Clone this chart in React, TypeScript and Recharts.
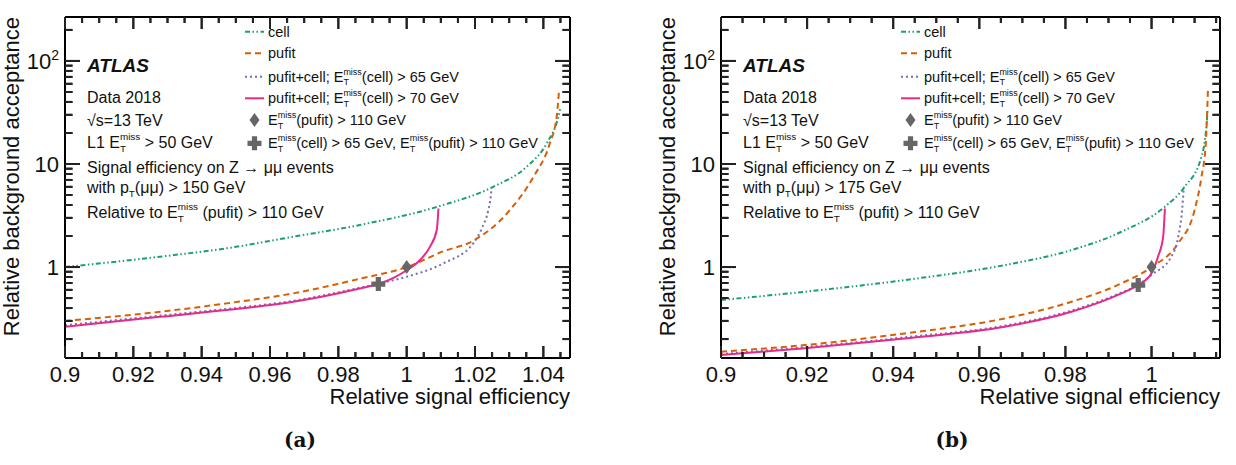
import React from "react";
import { ComposedChart, Line, XAxis, YAxis } from "recharts";

/* eslint-disable @typescript-eslint/no-explicit-any */

const FONT = '"Liberation Sans", Arial, Helvetica, sans-serif';
const INK = "#111111";
const CELL = "#1b9e77";
const PUFIT = "#d95f02";
const PC65 = "#7570b3";
const PC70 = "#e7298a";
const MARK = "#666666";
const H = 465;
const PLOT_TOP = 17;
const PLOT_BOTTOM = 358;

// ---- panel (a): pT(mumu) > 150 GeV ----
const cellA = [[0.9, 1.0], [0.9278, 1.26], [0.9473, 1.52], [0.9668, 1.97], [0.9863, 2.56], [1.0097, 3.91], [1.0253, 6.0], [1.0351, 9.4], [1.041, 15.9], [1.0444, 28.8], [1.0449, 34]];
const pufitA = [[0.9, 0.3], [0.9278, 0.368], [0.9473, 0.444], [0.9668, 0.555], [0.9863, 0.77], [1.0, 1.0], [1.0107, 1.42], [1.0195, 1.8], [1.0302, 3.57], [1.0371, 7.5], [1.0419, 15.9], [1.0439, 28.8], [1.0446, 52]];
const pc65A = [[0.9, 0.273], [0.9278, 0.338], [0.9473, 0.392], [0.9668, 0.47], [0.9863, 0.63], [0.9917, 0.69], [1.0, 0.805], [1.0107, 1.085], [1.0195, 1.7], [1.0222, 2.46], [1.0239, 3.57], [1.0246, 4.82], [1.0249, 6.0]];
const pc70A = [[0.9, 0.264], [0.9278, 0.329], [0.9473, 0.382], [0.9668, 0.46], [0.9863, 0.62], [0.9917, 0.684], [0.996, 0.78], [1.0, 0.93], [1.0039, 1.17], [1.0068, 1.57], [1.0088, 2.29], [1.0093, 3.7]];
const diamondA = [{ x: 1.0, y: 1.0 }];
const crossA = [{ x: 0.9917, y: 0.684 }];

// ---- panel (b): pT(mumu) > 175 GeV ----
const cellB = [[0.9, 0.478], [0.9195, 0.576], [0.9427, 0.748], [0.9659, 1.045], [0.9814, 1.46], [0.993, 2.2], [1.0031, 3.85], [1.0077, 6.0], [1.0116, 11.8], [1.0128, 24.8], [1.013, 33]];
const pufitB = [[0.9, 0.151], [0.9195, 0.175], [0.9427, 0.227], [0.9659, 0.317], [0.9814, 0.46], [0.993, 0.694], [1.0, 1.0], [1.0062, 1.7], [1.01, 3.57], [1.0116, 7.5], [1.0126, 15.9], [1.0131, 52]];
const pc65B = [[0.9, 0.143], [0.9195, 0.167], [0.9427, 0.208], [0.9659, 0.27], [0.9814, 0.378], [0.993, 0.565], [0.9969, 0.669], [1.0, 0.84], [1.0046, 1.26], [1.0062, 1.97], [1.0071, 3.57], [1.0075, 6.0]];
const pc70B = [[0.9, 0.14], [0.9195, 0.163], [0.9427, 0.203], [0.9659, 0.263], [0.9814, 0.368], [0.993, 0.555], [0.9969, 0.669], [1.0, 0.87], [1.0015, 1.26], [1.0027, 1.97], [1.0031, 3.7]];
const diamondB = [{ x: 1.0, y: 1.0 }];
const crossB = [{ x: 0.9969, y: 0.669 }];

// ---- axes ----
const X_MAJOR_A = [0.9, 0.92, 0.94, 0.96, 0.98, 1, 1.02, 1.04];
const X_MAJOR_B = [0.9, 0.92, 0.94, 0.96, 0.98, 1];
const Y_MAJOR = [1, 10, 100];
const Y_TICKS = [0.2, 0.3, 0.4, 0.5, 0.6, 0.7, 0.8, 0.9, 1, 2, 3, 4, 5, 6, 7, 8, 9, 10, 20, 30, 40, 50, 60, 70, 80, 90, 100, 200];
const Y_DOMAIN = [0.131, 267];

const pts = (a: number[][]) => a.map(([x, y]) => ({ x, y }));

const minorGrid = (lo: number, hi: number, step: number) => {
  const out: number[] = [];
  for (let i = 0; lo + i * step <= hi + 1e-9; i++) out.push(Math.round((lo + i * step) * 1000) / 1000);
  return out;
};

const isMajor = (v: number, major: number[]) => major.some((m) => Math.abs(m - v) < 1e-9);
const fmtX = (v: number) => String(Math.round(v * 100) / 100);

const TICK_W = 2;
const TICK_INK = "#222222";

const bottomTick = (major: number[]) => (p: any) => {
  const v = p.payload.value;
  const M = isMajor(v, major);
  return (
    <g>
      <line x1={p.x} x2={p.x} y1={p.y} y2={p.y - (M ? 12 : 6)} stroke={TICK_INK} strokeWidth={TICK_W} />
      {M && (
        <text x={p.x} y={p.y + 24} textAnchor="middle" fontSize={22} fontFamily={FONT} fill={INK}>
          {fmtX(v)}
        </text>
      )}
    </g>
  );
};

const topTick = (major: number[]) => (p: any) => {
  const M = isMajor(p.payload.value, major);
  return <line x1={p.x} x2={p.x} y1={p.y} y2={p.y + (M ? 12 : 6)} stroke={TICK_INK} strokeWidth={TICK_W} />;
};

const leftTick = (p: any) => {
  const v = p.payload.value;
  const M = isMajor(v, Y_MAJOR);
  return (
    <g>
      <line x1={p.x} x2={p.x + (M ? 15 : 7.5)} y1={p.y} y2={p.y} stroke={TICK_INK} strokeWidth={TICK_W} />
      {M && (
        <text x={p.x - 6} y={p.y + 8} textAnchor="end" fontSize={22} fontFamily={FONT} fill={INK}>
          {v === 100 ? (
            <>
              10<tspan fontSize={14} dy={-9}>2</tspan>
            </>
          ) : (
            String(v)
          )}
        </text>
      )}
    </g>
  );
};

const rightTick = (p: any) => {
  const M = isMajor(p.payload.value, Y_MAJOR);
  return <line x1={p.x} x2={p.x - (M ? 15 : 7.5)} y1={p.y} y2={p.y} stroke={TICK_INK} strokeWidth={TICK_W} />;
};

const diamondPath = (cx: number, cy: number) => `M${cx},${cy - 7} L${cx + 5},${cy} L${cx},${cy + 7} L${cx - 5},${cy} Z`;
const crossPath = (cx: number, cy: number) => {
  const a = 7;
  const t = 2.6;
  return `M${cx - t},${cy - a} H${cx + t} V${cy - t} H${cx + a} V${cy + t} H${cx + t} V${cy + a} H${cx - t} V${cy + t} H${cx - a} V${cy - t} H${cx - t} Z`;
};
const DiamondDot = (p: any) => <path key={`d${p.index}`} d={diamondPath(p.cx, p.cy)} fill={MARK} />;
const CrossDot = (p: any) => <path key={`c${p.index}`} d={crossPath(p.cx, p.cy)} fill={MARK} />;

// E_T^miss as stacked sub/superscript, followed by the rest of the text on the baseline
const emiss = (fs: number, k: string, rest: string) => {
  const s = fs * 0.62;
  return [
    <tspan key={k + "e"}>E</tspan>,
    <tspan key={k + "t"} fontSize={s} dy={fs * 0.25}>T</tspan>,
    <tspan key={k + "m"} fontSize={s} dx={-0.611 * s} dy={-fs * 0.72}>miss</tspan>,
    <tspan key={k + "r"} dy={fs * 0.47}>{rest}</tspan>,
  ];
};

const CUTS_A = "150";
const CUTS_B = "175";

const LEGEND = [
  { kind: "line", color: CELL, dash: "5 2.5 1.5 2.5 1.5 2.5", label: "cell" },
  { kind: "line", color: PUFIT, dash: "6 4", label: "pufit" },
  { kind: "line", color: PC65, dash: "2 3", label: "pc65" },
  { kind: "line", color: PC70, dash: "", label: "pc70" },
  { kind: "diamond", color: MARK, dash: "", label: "ref" },
  { kind: "cross", color: MARK, dash: "", label: "combo" },
];
const LEGEND_Y = [36.7, 58.3, 81.7, 103.3, 125, 148.3];

const legendText = (label: string, fs: number) => {
  switch (label) {
    case "pc65":
      return <>{"pufit+cell; "}{emiss(fs, "a", "(cell) > 65 GeV")}</>;
    case "pc70":
      return <>{"pufit+cell; "}{emiss(fs, "b", "(cell) > 70 GeV")}</>;
    case "ref":
      return <>{emiss(fs, "c", "(pufit) > 110 GeV")}</>;
    case "combo":
      return <>{emiss(fs, "d", "(cell) > 65 GeV, ")}{emiss(fs, "e", "(pufit) > 110 GeV")}</>;
    default:
      return label;
  }
};

interface PanelProps {
  left: number;
  width: number;
  plotL: number;
  plotR: number;
  xMax: number;
  xMajor: number[];
  cell: number[][];
  pufit: number[][];
  pc65: number[][];
  pc70: number[][];
  diamond: { x: number; y: number }[];
  cross: { x: number; y: number }[];
  ptCut: string;
  tag: string;
  tagX: number;
}

function Panel(props: PanelProps) {
  const { left, width, plotL, plotR, xMax, xMajor, ptCut, tag, tagX } = props;
  const xTicks = minorGrid(0.9, xMax, 0.005);
  const margin = { top: 16, bottom: 77, left: plotL - 40, right: width - plotR - 1 };
  const axisLine = { stroke: "#000", strokeWidth: 2 };
  const tx = plotL + 22;
  const lx = plotL + 180;
  const fs = 16;
  const lfs = 14.5;

  // frame tick marks on all four sides, same linear / log mapping as the chart axes
  const xPix = (v: number) => plotL + ((v - 0.9) / (xMax - 0.9)) * (plotR - plotL);
  const lo = Math.log10(Y_DOMAIN[0]);
  const hi = Math.log10(Y_DOMAIN[1]);
  const yPix = (v: number) => PLOT_TOP + ((hi - Math.log10(v)) / (hi - lo)) * (PLOT_BOTTOM - PLOT_TOP);

  return (
    <div style={{ position: "absolute", left, top: 0, width, height: H }}>
      <svg width={width} height={H} style={{ position: "absolute", left: 0, top: 0 }} fontFamily={FONT} fill={INK}>
        <text transform={`translate(${plotL - 46},17) rotate(-90)`} textAnchor="end" fontSize={22}>
          Relative background acceptance
        </text>
        <text x={plotR} y={404} textAnchor="end" fontSize={22}>Relative signal efficiency</text>

        <text x={tx} y={72} fontSize={19} fontWeight="bold" fontStyle="italic">ATLAS</text>
        <text x={tx} y={103} fontSize={fs}>Data 2018</text>
        <text x={tx} y={126} fontSize={fs}>√s=13 TeV</text>
        <text x={tx} y={148} fontSize={fs}>{"L1 "}{emiss(fs, "l1", " > 50 GeV")}</text>
        <text x={tx} y={172.7} fontSize={fs}>Signal efficiency on Z → μμ events</text>
        <text x={tx} y={193} fontSize={fs}>
          with p<tspan fontSize={fs * 0.62} dy={4}>T</tspan>
          <tspan dy={-4}>{`(μμ) > ${ptCut} GeV`}</tspan>
        </text>
        <text x={tx} y={218} fontSize={fs}>{"Relative to "}{emiss(fs, "rel", " (pufit) > 110 GeV")}</text>

        {LEGEND.map((e, i) => {
          const y = LEGEND_Y[i];
          const my = y - 5;
          const cx = lx + 9.5;
          return (
            <g key={e.label}>
              {e.kind === "line" && (
                <line x1={lx} x2={lx + 19} y1={my} y2={my} stroke={e.color} strokeWidth={2} strokeDasharray={e.dash || undefined} />
              )}
              {e.kind === "diamond" && <path d={diamondPath(cx, my)} fill={MARK} />}
              {e.kind === "cross" && <path d={crossPath(cx, my)} fill={MARK} />}
              <text x={lx + 23} y={y} fontSize={lfs}>{legendText(e.label, lfs)}</text>
            </g>
          );
        })}

        <text x={tagX} y={447} textAnchor="middle" fontSize={20} fontWeight="bold" fontFamily='"DejaVu Serif", serif'>
          {tag}
        </text>
      </svg>

      <ComposedChart width={width} height={H} margin={margin}>
        <XAxis xAxisId="b" type="number" dataKey="x" domain={[0.9, xMax]} allowDataOverflow ticks={xTicks} interval={0}
          tickSize={0} tickMargin={0} tickLine={false} tick={bottomTick(xMajor)} height={30} axisLine={axisLine} />
        <XAxis xAxisId="t" orientation="top" type="number" dataKey="x" domain={[0.9, xMax]} allowDataOverflow ticks={xTicks} interval={0}
          tickSize={0} tickMargin={0} tickLine={false} tick={topTick(xMajor)} height={1} axisLine={axisLine} />
        <YAxis yAxisId="l" type="number" dataKey="y" scale="log" domain={Y_DOMAIN} allowDataOverflow ticks={Y_TICKS} interval={0}
          tickSize={0} tickMargin={0} tickLine={false} tick={leftTick} width={40} axisLine={axisLine} />
        <YAxis yAxisId="r" orientation="right" type="number" dataKey="y" scale="log" domain={Y_DOMAIN} allowDataOverflow ticks={Y_TICKS} interval={0}
          tickSize={0} tickMargin={0} tickLine={false} tick={rightTick} width={1} axisLine={axisLine} />

        <Line xAxisId="b" yAxisId="l" data={pts(props.cell)} dataKey="y" type="monotone" stroke={CELL} strokeWidth={2}
          strokeDasharray="5 2.5 1.5 2.5 1.5 2.5" dot={false} isAnimationActive={false} />
        <Line xAxisId="b" yAxisId="l" data={pts(props.pufit)} dataKey="y" type="monotone" stroke={PUFIT} strokeWidth={2}
          strokeDasharray="6 4" dot={false} isAnimationActive={false} />
        <Line xAxisId="b" yAxisId="l" data={pts(props.pc65)} dataKey="y" type="monotone" stroke={PC65} strokeWidth={2}
          strokeDasharray="2 3" dot={false} isAnimationActive={false} />
        <Line xAxisId="b" yAxisId="l" data={pts(props.pc70)} dataKey="y" type="monotone" stroke={PC70} strokeWidth={2}
          dot={false} isAnimationActive={false} />
        <Line xAxisId="b" yAxisId="l" data={props.diamond} dataKey="y" stroke="none" dot={DiamondDot} isAnimationActive={false} />
        <Line xAxisId="b" yAxisId="l" data={props.cross} dataKey="y" stroke="none" dot={CrossDot} isAnimationActive={false} />
      </ComposedChart>

      {/* tick marks on top of everything */}
      <svg width={width} height={H} style={{ position: "absolute", left: 0, top: 0, pointerEvents: "none" }}>
        <g stroke={TICK_INK} strokeWidth={TICK_W}>
          {xTicks.map((v) => {
            const L = isMajor(v, xMajor) ? 12 : 6;
            const x = xPix(v);
            return (
              <g key={`xt${v}`}>
                <line x1={x} x2={x} y1={PLOT_BOTTOM} y2={PLOT_BOTTOM - L} />
                <line x1={x} x2={x} y1={PLOT_TOP} y2={PLOT_TOP + L} />
              </g>
            );
          })}
          {Y_TICKS.map((v) => {
            const L = isMajor(v, Y_MAJOR) ? 15 : 7.5;
            const y = yPix(v);
            return (
              <g key={`yt${v}`}>
                <line x1={plotL} x2={plotL + L} y1={y} y2={y} />
                <line x1={plotR} x2={plotR - L} y1={y} y2={y} />
              </g>
            );
          })}
        </g>
      </svg>
    </div>
  );
}

export default function App() {
  return (
    <div style={{ position: "absolute", left: 0, top: 0, width: 1236, height: H, background: "#fff" }}>
      <Panel left={0} width={620} plotL={65} plotR={570} xMax={1.0478} xMajor={X_MAJOR_A}
        cell={cellA} pufit={pufitA} pc65={pc65A} pc70={pc70A} diamond={diamondA} cross={crossA}
        ptCut={CUTS_A} tag="(a)" tagX={300} />
      <Panel left={620} width={616} plotL={101} plotR={600} xMax={1.0159} xMajor={X_MAJOR_B}
        cell={cellB} pufit={pufitB} pc65={pc65B} pc70={pc70B} diamond={diamondB} cross={crossB}
        ptCut={CUTS_B} tag="(b)" tagX={332} />
    </div>
  );
}
